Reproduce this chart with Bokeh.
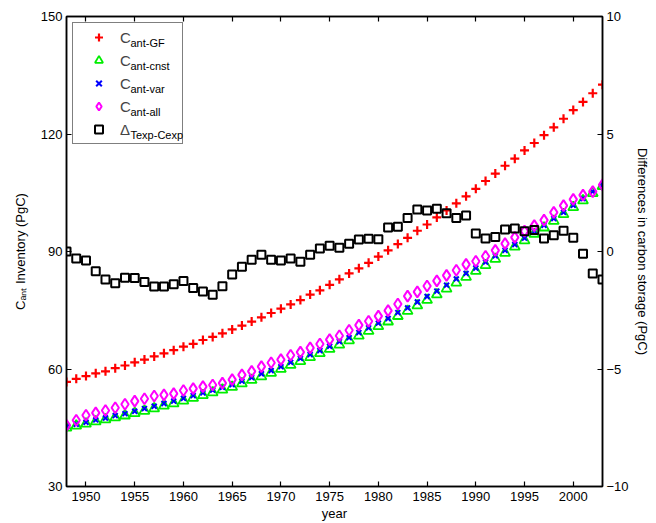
import math
from bokeh.plotting import figure
from bokeh.models import (Range1d, LinearAxis, Legend, LegendItem, FixedTicker,
                          ColumnDataSource)
from bokeh.core.properties import value
from bokeh.embed import file_html
from bokeh.resources import INLINE

years = list(range(1948, 2004))

c_gf = [56.7, 57.5, 58.2, 58.9, 59.4, 60.2, 60.9, 61.7, 62.4, 63.2,
        64.0, 64.8, 65.7, 66.4, 67.4, 68.2, 69.1, 70.1, 71.1, 72.1,
        73.2, 74.3, 75.4, 76.5, 77.6, 79.0, 80.1, 81.5, 82.9, 84.4,
        85.7, 87.1, 88.7, 90.3, 91.9, 93.5, 95.3, 96.9, 98.7, 100.5,
        102.3, 104.1, 106.0, 108.0, 109.9, 111.9, 113.7, 115.8, 117.7, 119.7,
        121.7, 123.9, 126.1, 128.2, 130.4, 132.6]

c_cnst = [45.0, 45.5, 46.0, 46.6, 47.1, 47.6, 48.1, 48.7, 49.3, 49.9,
          50.6, 51.2, 51.9, 52.6, 53.3, 54.0, 54.7, 55.4, 56.3, 57.2,
          58.1, 59.0, 60.0, 61.0, 62.0, 63.0, 64.0, 65.1, 66.2, 67.3,
          68.5, 69.7, 70.9, 72.1, 73.5, 74.8, 76.2, 77.6, 79.0, 80.5,
          82.0, 83.5, 85.0, 86.5, 88.1, 89.6, 91.2, 92.8, 94.5, 96.1,
          97.8, 99.5, 101.3, 103.0, 104.9, 106.7]

c_var = [45.3, 45.9, 46.4, 47.0, 47.5, 48.1, 48.6, 49.2, 49.9, 50.5,
         51.2, 51.8, 52.5, 53.2, 53.9, 54.6, 55.3, 56.0, 56.9, 57.8,
         58.8, 59.6, 60.6, 61.7, 62.7, 63.7, 64.7, 65.8, 67.0, 68.0,
         69.3, 70.5, 71.7, 72.9, 74.4, 75.6, 77.1, 78.5, 79.9, 81.4,
         83.0, 84.4, 85.8, 87.3, 88.9, 90.3, 91.8, 93.4, 95.2, 96.7,
         98.4, 100.0, 101.8, 103.5, 105.3, 107.0]

c_all = [45.6, 46.9, 48.2, 48.8, 49.4, 50.1, 51.0, 51.8, 52.4, 53.1,
         53.4, 53.7, 54.5, 55.0, 55.5, 55.9, 56.4, 57.3, 58.5, 59.4,
         60.6, 61.6, 62.4, 63.5, 64.3, 65.4, 66.4, 67.5, 68.5, 69.9,
         71.2, 72.2, 73.5, 74.9, 76.6, 78.6, 79.7, 81.2, 82.5, 83.9,
         85.2, 86.7, 87.5, 88.8, 90.3, 92.0, 93.6, 95.2, 96.6, 98.0,
         100.0, 101.7, 103.3, 104.4, 105.3, 107.0]

delta = [0.0, -0.30, -0.38, -0.84, -1.19, -1.35, -1.12, -1.13, -1.30, -1.49,
         -1.49, -1.39, -1.25, -1.55, -1.70, -1.84, -1.48, -0.98, -0.65, -0.35,
         -0.14, -0.35, -0.38, -0.30, -0.44, -0.14, 0.13, 0.24, 0.16, 0.33,
         0.51, 0.54, 0.52, 1.02, 1.05, 1.43, 1.79, 1.74, 1.82, 1.63,
         1.43, 1.53, 0.77, 0.55, 0.62, 0.94, 0.98, 0.86, 0.91, 0.55,
         0.69, 0.88, 0.58, -0.10, -0.94, -1.19]

x_ticks = [1950, 1955, 1960, 1965, 1970, 1975, 1980, 1985, 1990, 1995, 2000]
y_ticks = [30, 60, 90, 120, 150]
y2_ticks = [-10, -5, 0, 5, 10]

legend_main = ["C", "C", "C", "C", "\u0394"]
legend_sub = ["ant-GF", "ant-cnst", "ant-var", "ant-all", "Texp-Cexp"]

FONT = "Liberation Sans"
W, H = 656, 523
BL, BR, BT, BB = 66, 54, 16, 36
FW = W - BL - BR
FH = H - BT - BB
X0, X1, Y0, Y1 = 1948, 2003, 30, 150
R0, R1 = -10, 10


def px_x(px):
    """page pixel column -> x data value (for placing legend sub-labels)"""
    return X0 + (px - BL) * (X1 - X0) / FW


def px_y(py):
    """page pixel row -> y data value (for placing legend sub-labels)"""
    return Y0 + (H - BB - py) * (Y1 - Y0) / FH


p = figure(width=W, height=H, x_range=Range1d(X0, X1), y_range=Range1d(Y0, Y1),
           output_backend="svg", toolbar_location=None,
           min_border_left=BL, min_border_right=BR, min_border_top=BT, min_border_bottom=BB)
p.extra_y_ranges = {"r": Range1d(R0, R1)}
p.grid.visible = False
p.outline_line_color = "black"
p.outline_line_width = 1.5


def style_axis(ax, standoff):
    ax.axis_line_width = 1.5
    ax.axis_line_color = "black"
    ax.major_tick_in = 5
    ax.major_tick_out = 0
    ax.major_tick_line_width = 1.2
    ax.minor_tick_line_color = None
    ax.major_label_text_font = FONT
    ax.major_label_text_font_size = "13px"
    ax.major_label_text_color = "black"
    ax.major_label_standoff = standoff
    ax.axis_label_text_font = FONT
    ax.axis_label_text_font_size = "13px"
    ax.axis_label_text_font_style = "normal"
    ax.axis_label_text_color = "black"


xa = p.xaxis[0]
xa.ticker = FixedTicker(ticks=x_ticks)
style_axis(xa, 5)
xa.axis_label = "year"
xa.axis_label_standoff = 2

ya = p.yaxis[0]
ya.ticker = FixedTicker(ticks=y_ticks)
style_axis(ya, 4)
ya.axis_label = "C\u2090\u2099\u209c Inventory (PgC)"
ya.axis_label_standoff = 10

ra = LinearAxis(y_range_name="r", ticker=FixedTicker(ticks=y2_ticks),
                major_label_overrides={-10: "\u221210", -5: "\u22125"})
style_axis(ra, 4)
ra.axis_label = "Differences in carbon storage (PgC)"
ra.axis_label_standoff = 3
ra.axis_label_orientation = "vertical"
p.add_layout(ra, "right")

ta = LinearAxis(ticker=FixedTicker(ticks=x_ticks))
style_axis(ta, 0)
ta.major_label_text_color = None
p.add_layout(ta, "above")

r_gf = p.scatter(years, c_gf, marker="cross", size=9, line_color="red", line_width=2.2)
r_cn = p.scatter(years, c_cnst, marker="triangle", size=10, line_color="#00ee00",
                 fill_color=None, line_width=1.8)
r_va = p.scatter(years, c_var, marker="x", size=7, line_color="blue", line_width=2)
r_al = p.scatter(years, c_all, marker="diamond", size=11, line_color="magenta",
                 fill_color=None, line_width=2)
r_dl = p.scatter(years, delta, y_range_name="r", marker="square", size=8,
                 line_color="black", fill_color=None, line_width=2)

rends = [r_gf, r_cn, r_va, r_al, r_dl]
items = [LegendItem(label=t, renderers=[r]) for t, r in zip(legend_main, rends)]
leg = Legend(items=items, location="top_left", margin=6, padding=4, spacing=3,
             glyph_width=43, glyph_height=20, label_height=20, label_width=58,
             label_standoff=0, border_line_color="black", border_line_width=1.5,
             background_fill_alpha=0.0, label_text_font=FONT,
             label_text_font_size="15px")
p.add_layout(leg)

# subscripts of the legend entries
sub_src = ColumnDataSource(dict(
    x=[px_x(130)] * len(legend_sub),
    y=[px_y(36 + 23 * i + 7) for i in range(len(legend_sub))],
    t=legend_sub))
p.text(x="x", y="y", text="t", source=sub_src, text_font=value(FONT),
       text_font_size="11px", text_baseline="middle", text_align="left",
       text_color="black")

open("out.html", "w").write(file_html(p, INLINE))
